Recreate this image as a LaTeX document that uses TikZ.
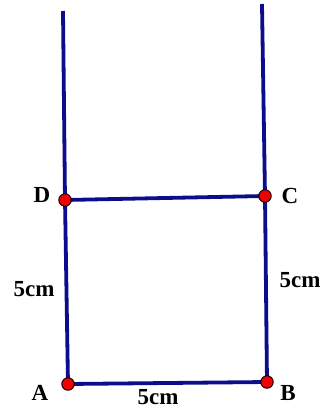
\documentclass[tikz,border=0pt]{standalone}
\usepackage{fontspec}
\setmainfont{Liberation Serif}
\usetikzlibrary{positioning}
\definecolor{navyline}{HTML}{0C0C8C}
\definecolor{dotred}{HTML}{F00000}
\tikzset{
  side/.style={draw=navyline,line width=3.8pt},
  vertex/.style={circle,draw=black,line width=0.9pt,fill=dotred,inner sep=0pt,minimum size=12.5pt},
  lbl/.style={font=\fontsize{23}{25}\selectfont\bfseries,inner sep=0pt}
}
\begin{document}
\begin{tikzpicture}[x=1pt,y=-1pt]
    \useasboundingbox (0,0) rectangle (322,408);
    % points of the square and the two rays
    \coordinate (a) at (68,384);
    \coordinate (b) at (267,382);
    \coordinate (c) at (265,196);
    \coordinate (d) at (65,200);
    \coordinate (dtop) at (63,11);
    \coordinate (ctop) at (262,4);

    \draw[side] (d) -- (dtop);
    \draw[side] (c) -- (ctop);
    \draw[side] (a) -- (b) -- (c) -- (d) -- cycle;

    \node[vertex] (pa) at (a) {};
    \node[vertex] (pb) at (b) {};
    \node[vertex] (pc) at (c) {};
    \node[vertex] (pd) at (d) {};

    \node[lbl] (la) at (40,393) {A};
    \node[lbl] (lb) at (288,393) {B};
    \node[lbl] (lc) at (290,196) {C};
    \node[lbl] (ld) at (42,195) {D};

    \node[lbl] (ab) at (158,397) {5cm};
    \node[lbl] (da) at (34,289) {5cm};
    \node[lbl] (bc) at (300,280) {5cm};
  \end{tikzpicture}
\end{document}
